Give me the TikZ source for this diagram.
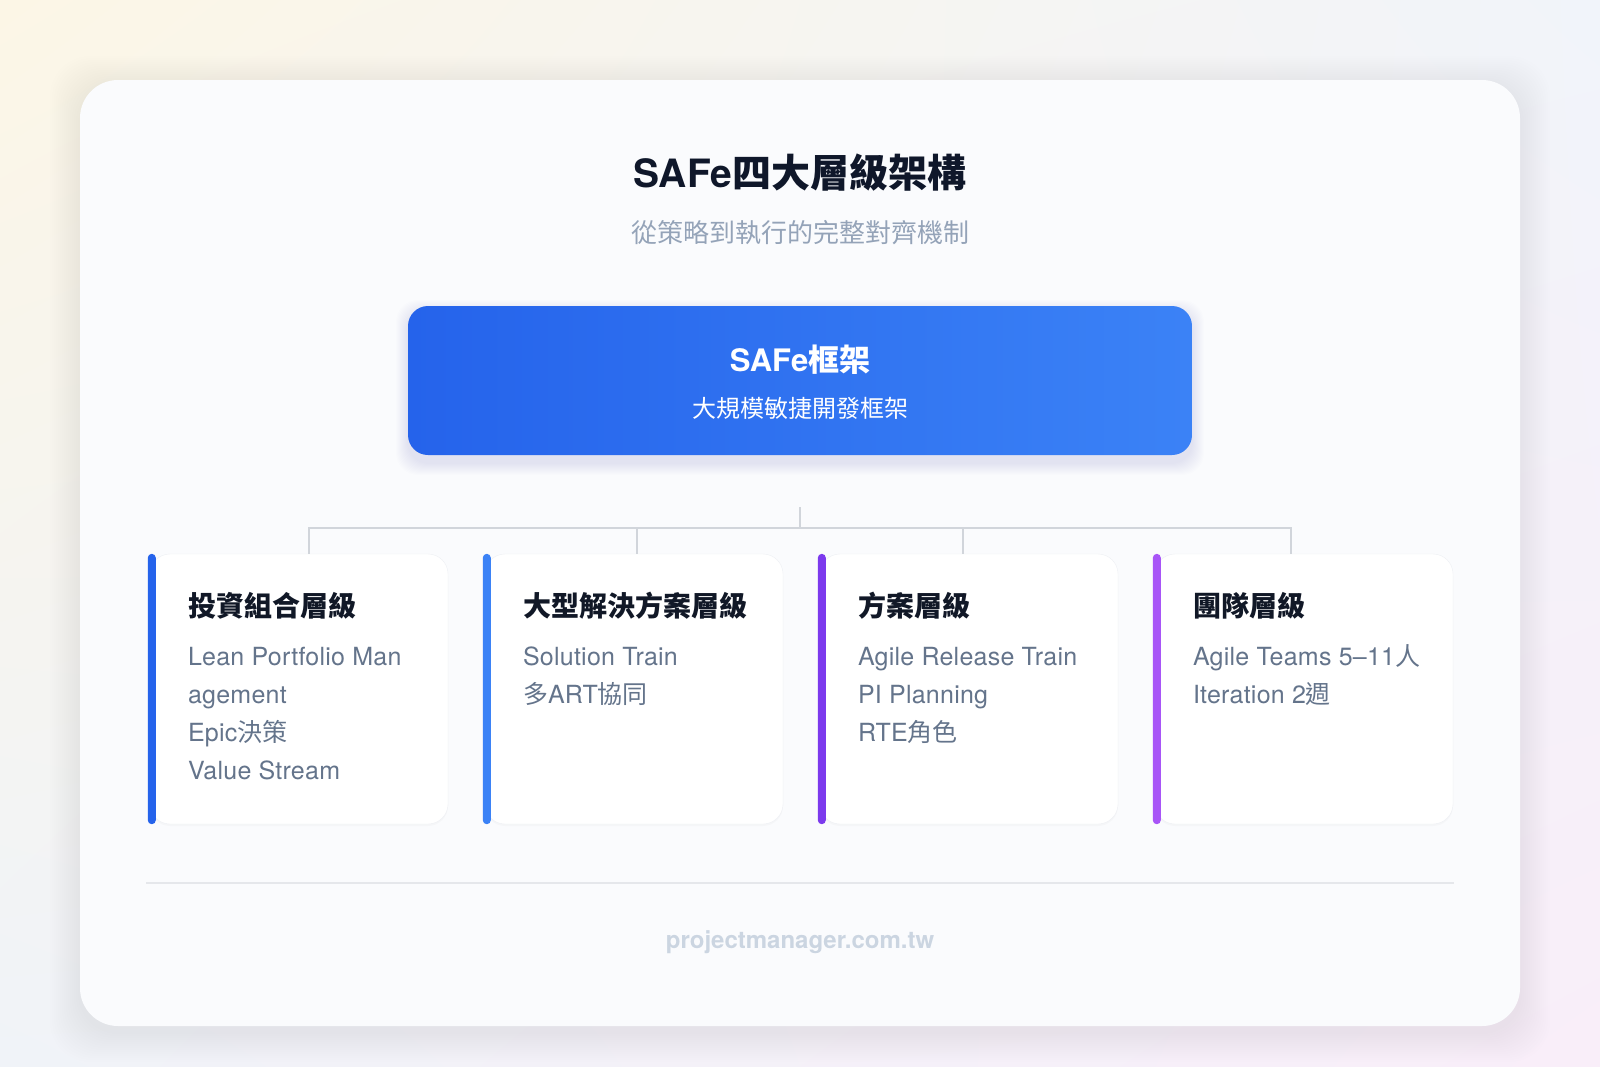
\documentclass[tikz,border=0pt]{standalone}
\usepackage{fontspec}
\setmainfont{TeX Gyre Heros}
\newfontfamily\cjk{Noto Sans CJK TC}
\usetikzlibrary{positioning, shadows, shadings}

\definecolor{bgcream}{HTML}{FCF6E6}
\definecolor{bgblue}{HTML}{F1F4FA}
\definecolor{bgleft}{HTML}{F0F3F8}
\definecolor{bgpink}{HTML}{F9EEF9}
\definecolor{panelfill}{HTML}{FAFBFD}
\definecolor{titleink}{HTML}{0F172A}
\definecolor{subink}{HTML}{94A3B8}
\definecolor{headink}{HTML}{111827}
\definecolor{bodyink}{HTML}{64748B}
\definecolor{linkgray}{HTML}{D1D5DB}
\definecolor{rulegray}{HTML}{E5E7EB}
\definecolor{footink}{HTML}{CBD5E1}
\definecolor{cardline}{HTML}{EEF0F4}
\definecolor{safeleft}{HTML}{2563EB}
\definecolor{saferight}{HTML}{3B82F6}
\definecolor{portfolio}{HTML}{2563EB}
\definecolor{solution}{HTML}{3B82F6}
\definecolor{program}{HTML}{7C3AED}
\definecolor{team}{HTML}{A855F7}

\tikzset{
    panel/.style={fill=panelfill, rounded corners=38pt},
    halo/.style={rounded corners=40pt, opacity=0.0025},
    safebox/.style={rounded corners=20pt, left color=safeleft, right color=saferight, minimum width=784pt, minimum height=149pt},
    card/.style={draw=cardline, fill=white, rounded corners=20pt, minimum width=298pt, minimum height=270pt, inner sep=0pt, drop shadow={opacity=0.035, shadow xshift=0pt, shadow yshift=-2pt}},
    stripe/.style={rounded corners=4pt},
    cardhead/.style={anchor=base west, inner sep=0pt, text=headink, font=\fontsize{28}{32}\selectfont\cjk\bfseries},
    cardtext/.style={anchor=base west, inner sep=0pt, text=bodyink, font=\fontsize{25}{30}\selectfont\addfontfeature{LetterSpace=1}},
    link/.style={draw=linkgray, line width=2pt},
}

\begin{document}
\begin{tikzpicture}[x=1pt, y=-1pt]
    \useasboundingbox (0,0) rectangle (1600,1066);
    \shade[upper left=bgcream, upper right=bgblue, lower left=bgleft, lower right=bgpink] (0,0) rectangle (1600,1066);
    % soft shadows
    \foreach \s in {2,4,...,30} {
        \fill[halo, black] (80-\s,86-\s) rectangle (1520+\s,1032+\s);
    }
    \path[panel] (80,80) rectangle (1520,1026);
    \foreach \s in {1,...,12} {
        \fill[rounded corners=22pt, safeleft, opacity=0.007] (408-\s,312-\s) rectangle (1192+\s,463+\s);
    }

    % Header
    \node[text=titleink, font=\fontsize{39}{46}\selectfont\bfseries] (title) at (800,173) {SAFe{\cjk 四大層級架構}};
    \node[text=subink, font=\fontsize{26}{32}\selectfont\cjk] (subtitle) at (800,233) {從策略到執行的完整對齊機制};

    % Top box
    \node[safebox] (safe) at (800,380.5) {};
    \node[text=white, font=\fontsize{31}{36}\selectfont\bfseries] (safename) at (800,360) {SAFe{\cjk 框架}};
    \node[text=white, font=\fontsize{24}{28}\selectfont\cjk] (safedesc) at (800,408) {大規模敏捷開發框架};

    % Cards
    \node[card] (c1) at (299,689) {};
    \node[card] (c2) at (634,689) {};
    \node[card] (c3) at (969,689) {};
    \node[card] (c4) at (1304,689) {};
    \fill[stripe, portfolio] ([xshift=-2pt]c1.south west) rectangle ([xshift=6pt]c1.north west);
    \fill[stripe, solution] ([xshift=-2pt]c2.south west) rectangle ([xshift=6pt]c2.north west);
    \fill[stripe, program] ([xshift=-2pt]c3.south west) rectangle ([xshift=6pt]c3.north west);
    \fill[stripe, team] ([xshift=-2pt]c4.south west) rectangle ([xshift=6pt]c4.north west);

    % Card texts
    \node[cardhead] (h1) at ([xshift=38pt,yshift=-63pt]c1.north west) {投資組合層級};
    \node[cardtext] (t1a) at ([yshift=-49pt]h1.base west) {Lean Portfolio Man};
    \node[cardtext] (t1b) at ([yshift=-38pt]t1a.base west) {agement};
    \node[cardtext] (t1c) at ([yshift=-38pt]t1b.base west) {Epic{\cjk 決策}};
    \node[cardtext] (t1d) at ([yshift=-38pt]t1c.base west) {Value Stream};

    \node[cardhead] (h2) at ([xshift=38pt,yshift=-63pt]c2.north west) {大型解決方案層級};
    \node[cardtext] (t2a) at ([yshift=-49pt]h2.base west) {Solution Train};
    \node[cardtext] (t2b) at ([yshift=-38pt]t2a.base west) {{\cjk 多}ART{\cjk 協同}};

    \node[cardhead] (h3) at ([xshift=38pt,yshift=-63pt]c3.north west) {方案層級};
    \node[cardtext] (t3a) at ([yshift=-49pt]h3.base west) {Agile Release Train};
    \node[cardtext] (t3b) at ([yshift=-38pt]t3a.base west) {PI Planning};
    \node[cardtext] (t3c) at ([yshift=-38pt]t3b.base west) {RTE{\cjk 角色}};

    \node[cardhead] (h4) at ([xshift=38pt,yshift=-63pt]c4.north west) {團隊層級};
    \node[cardtext] (t4a) at ([yshift=-49pt]h4.base west) {Agile Teams 5–11{\cjk 人}};
    \node[cardtext] (t4b) at ([yshift=-38pt]t4a.base west) {Iteration 2{\cjk 週}};

    % Connectors
    \coordinate (hub) at (800,507);
    \coordinate (j1) at (309,528);
    \coordinate (j2) at (637,528);
    \coordinate (j3) at (963,528);
    \coordinate (j4) at (1291,528);
    \draw[link] (hub) -- (hub |- j1);
    \draw[link] (j1 |- c1.north) -- (j1) -- (j4) -- (j4 |- c4.north);
    \draw[link] (j2) -- (j2 |- c2.north);
    \draw[link] (j3) -- (j3 |- c3.north);

    % Footer
    \coordinate (ruleL) at (146,883);
    \coordinate (ruleR) at (1454,883);
    \draw[rulegray, line width=2pt] (ruleL) -- (ruleR);
    \node[text=footink, font=\fontsize{24}{28}\selectfont\bfseries] (site) at (800,942) {projectmanager.com.tw};
\end{tikzpicture}
\end{document}
